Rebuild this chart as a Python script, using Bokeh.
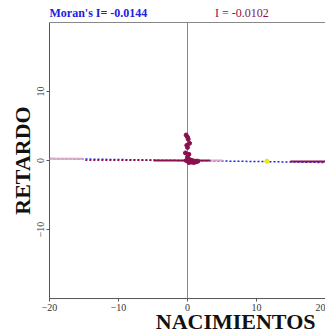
import math
from bokeh.plotting import figure
from bokeh.models import FixedTicker, Range1d
from bokeh.core.properties import value
from bokeh.embed import file_html
from bokeh.resources import INLINE

# Scatter data (NACIMIENTOS vs RETARDO)
pts_x = [-0.2, 0.0, 0.1, 0.3, -0.1, 0.0, -0.3, 0.2, 0.0, 0.4, 0.7, 1.0, 1.3, 1.5, 0.5, 0.9, 0.2, 0.6, 1.2, -0.2]
pts_y = [3.7, 3.4, 3.1, 2.5, 2.2, 1.9, 1.1, 0.9, 0.5, 0.1, 0.0, -0.1, -0.1, -0.1, -0.2, -0.3, -0.3, -0.2, -0.2, 0.0]

# Moran's I slopes
slope_all = -0.0144
slope_sel = -0.0102
x_min, x_max = -20, 20
y_min, y_max = -20, 20

# Segments of the second regression line
seg_pink_x = [[-20, -15.1], [3.3, 5.1]]
seg_pink_y = [[0.25, 0.25], [0.0, 0.0]]
seg_dash_x = [-15.1, -4.9]
seg_dash_y = [0.03, 0.03]
seg_solid_x = [[-4.9, 3.3], [14.9, 20]]
seg_solid_y = [[0.0, 0.0], [-0.15, -0.15]]
hl_x = [11.5]
hl_y = [-0.1]

x_ticks = [-20, -10, 0, 10, 20]
y_ticks = [-10, 0, 10]
titles = ["Moran's I= -0.0144", "I = -0.0102"]
title_x = [-20, 4.0]
x_title = "NACIMIENTOS"
y_title = "RETARDO"

BLUE = "#2020e0"
MAROON = "#8b1050"
PINK = "#d8a8c8"
FRAME = "#888888"
AXIS = "#555555"
SERIF = "Liberation Serif"

# view extends beyond the data box so axis titles sit inside the canvas
p = figure(width=325, height=336, output_backend="svg", toolbar_location=None,
           x_range=Range1d(-27.1, 20.0), y_range=Range1d(-25.5, 23.19),
           min_border=0)
p.background_fill_color = "white"
p.border_fill_color = "white"
p.outline_line_color = None
p.grid.visible = False

for ax in (p.xaxis[0], p.yaxis[0]):
    ax.axis_line_color = None
    ax.major_tick_line_color = AXIS
    ax.minor_tick_line_color = None
    ax.major_tick_in = 0
    ax.major_tick_out = 3
    ax.major_label_text_font = SERIF
    ax.major_label_text_font_size = "10px"
    ax.major_label_text_color = "#333333"
    ax.major_label_standoff = 2

p.xaxis.fixed_location = y_min
p.yaxis.fixed_location = x_min
p.xaxis.ticker = FixedTicker(ticks=x_ticks)
p.yaxis.ticker = FixedTicker(ticks=y_ticks)
p.yaxis.major_label_orientation = "vertical"

# box lines: left, bottom, top, and the vertical line at x = 0
p.segment(x0=[x_min, x_min, x_min, 0], y0=[y_min, y_min, y_max, y_min],
          x1=[x_min, x_max, x_max, 0], y1=[y_max, y_min, y_max, y_max],
          line_color=[AXIS, AXIS, FRAME, FRAME], line_width=1)

# Regression line for all observations
p.line([x_min, x_max], [slope_all * x_min, slope_all * x_max], line_color=BLUE,
       line_width=1.5, line_dash="2 2")
# Second line segments
p.multi_line(seg_pink_x, seg_pink_y, line_color=PINK, line_width=2)
p.line(seg_dash_x, seg_dash_y, line_color=MAROON, line_width=1.5, line_dash="2 2",
       line_dash_offset=2)
p.multi_line(seg_solid_x, seg_solid_y, line_color=MAROON, line_width=2)

p.scatter(pts_x, pts_y, size=4, color=MAROON, marker="circle", line_color=MAROON)
p.scatter(hl_x, hl_y, size=4, color="#f0f000", line_color="#e0e000")

p.text(x=[title_x[0]], y=[y_max], text=[titles[0]], y_offset=-3,
       text_font=value(SERIF), text_font_style="bold", text_font_size="12px",
       text_color=BLUE, text_baseline="bottom")
p.text(x=[title_x[1]], y=[y_max], text=[titles[1]], y_offset=-3,
       text_font=value(SERIF), text_font_size="12px",
       text_color=MAROON, text_baseline="bottom")

# axis titles
p.text(x=[18.55], y=[-25.5], text=[x_title], y_offset=-3,
       text_font=value(SERIF), text_font_style="bold", text_font_size="22px",
       text_color="#111111", text_align="right", text_baseline="bottom")
p.text(x=[-23.9], y=[0.0], text=[y_title], angle=math.pi / 2,
       text_font=value(SERIF), text_font_style="bold", text_font_size="22px",
       text_color="#111111", text_align="center", text_baseline="middle")

open("out.html", "w").write(file_html(p, INLINE))
